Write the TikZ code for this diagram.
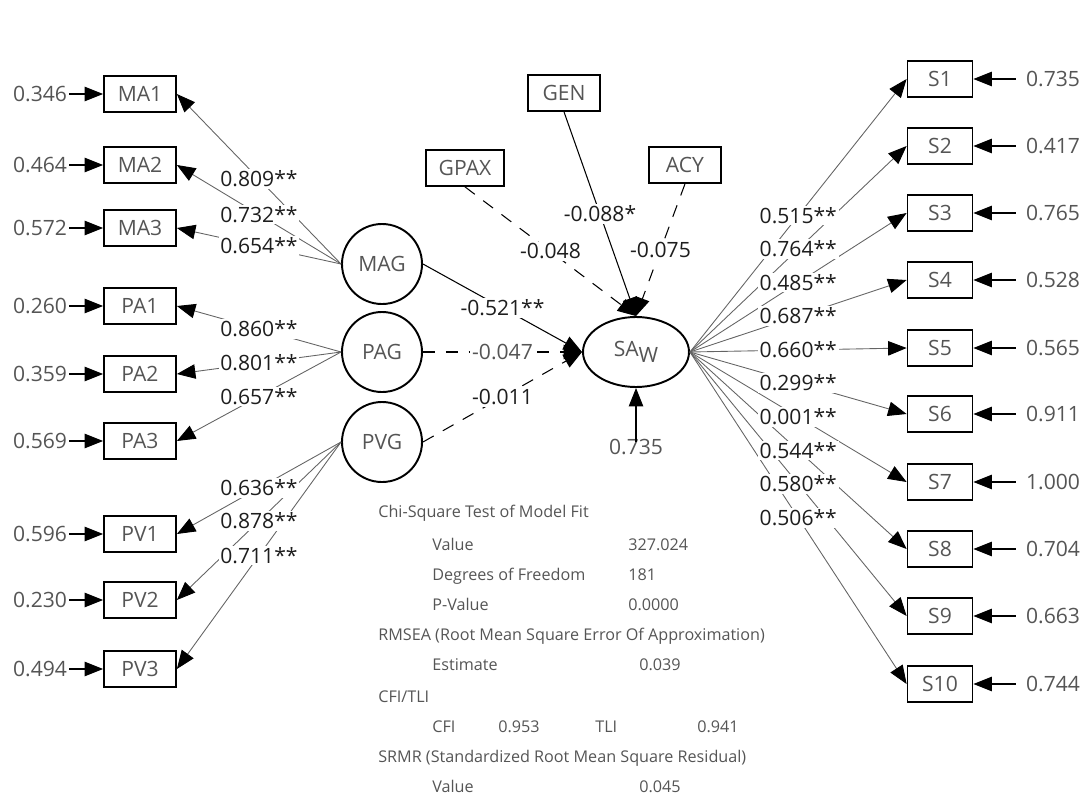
\documentclass[tikz,border=0pt]{standalone}
\usepackage{fontspec}
\setmainfont{Open Sans}
\usepackage{tikz}
\usetikzlibrary{arrows.meta,shapes.geometric}
\definecolor{cInk} {RGB}{30,30,30}
\definecolor{cSoft}{RGB}{85,85,85}
\definecolor{cWire}{RGB}{100,100,100}
\tikzset{
  >={Triangle[length=3.7mm,width=2.9mm]},
  obs/.style={draw=black,line width=1pt,minimum width=14.4mm,minimum height=7.2mm,
              inner sep=1pt,font=\fontsize{12}{14}\selectfont,text=cSoft},
  sobs/.style={obs,minimum width=13mm},
  lat/.style={draw=black,circle,line width=1.1pt,minimum size=16mm,inner sep=0pt,
              font=\fontsize{12}{14}\selectfont,text=cSoft},
  endo/.style={draw=black,ellipse,line width=1.1pt,minimum width=21.2mm,minimum height=14mm,
               inner sep=0pt,font=\fontsize{12}{14}\selectfont,text=cSoft},
  errlbl/.style={inner sep=1pt,font=\fontsize{12}{14}\selectfont,text=cSoft},
  est/.style={fill=white,inner sep=1pt,font=\fontsize{12}{14}\selectfont,text=cInk},
  fitx/.style={anchor=west,inner sep=0pt,text height=1.5ex,text depth=0.3ex,
               font=\fontsize{9.2}{11}\selectfont,text=cSoft},
  load/.style={-{Triangle[length=3.7mm,width=2.9mm,color=black]},cWire,line width=0.5pt},
  pathsig/.style={->,black,line width=0.6pt},
  pathns/.style={->,black,line width=0.6pt,dash pattern=on 7pt off 6pt},
  errarr/.style={->,black,line width=0.6pt},
  errarrR/.style={errarr,shorten <=1.6mm},
}
\begin{document}
\begin{tikzpicture}[x=0.2mm,y=-0.2mm]
  \useasboundingbox (0,0) rectangle (1092,796);
  % indicators, left
  \node[obs] (MA1) at (140,94)  {MA1};
  \node[obs] (MA2) at (140,165) {MA2};
  \node[obs] (MA3) at (140,228) {MA3};
  \node[obs] (PA1) at (140,306) {PA1};
  \node[obs] (PA2) at (140,374) {PA2};
  \node[obs] (PA3) at (140,441) {PA3};
  \node[obs] (PV1) at (140,534) {PV1};
  \node[obs] (PV2) at (140,600) {PV2};
  \node[obs] (PV3) at (140,669) {PV3};
  \node[errlbl] (eMA1) at (40,94)  {0.346};
  \node[errlbl] (eMA2) at (40,165) {0.464};
  \node[errlbl] (eMA3) at (40,228) {0.572};
  \node[errlbl] (ePA1) at (40,306) {0.260};
  \node[errlbl] (ePA2) at (40,374) {0.359};
  \node[errlbl] (ePA3) at (40,441) {0.569};
  \node[errlbl] (ePV1) at (40,534) {0.596};
  \node[errlbl] (ePV2) at (40,600) {0.230};
  \node[errlbl] (ePV3) at (40,669) {0.494};
  % latent factors
  \node[lat] (MAG) at (382,264) {MAG};
  \node[lat] (PAG) at (382,352) {PAG};
  \node[lat] (PVG) at (382,442) {PVG};
  \node[endo] (SAW) at (636,352) {SA\raisebox{-0.55ex}{W}};
  % covariates
  \node[obs,minimum width=15.6mm] (GPAX) at (465,168) {GPAX};
  \node[obs] (GEN) at (564,93)  {GEN};
  \node[obs] (ACY) at (685,165) {ACY};
  \node[errlbl] (rSAW) at (636,447) {0.735};
  % indicators, right
  \node[sobs] (S1)  at (940,79)  {S1};
  \node[sobs] (S2)  at (940,146) {S2};
  \node[sobs] (S3)  at (940,213) {S3};
  \node[sobs] (S4)  at (940,280) {S4};
  \node[sobs] (S5)  at (940,348) {S5};
  \node[sobs] (S6)  at (940,414) {S6};
  \node[sobs] (S7)  at (940,482) {S7};
  \node[sobs] (S8)  at (940,549) {S8};
  \node[sobs] (S9)  at (940,616) {S9};
  \node[sobs] (S10) at (940,684) {S10};
  \node[errlbl] (eS1)  at (1053,79)  {0.735};
  \node[errlbl] (eS2)  at (1053,146) {0.417};
  \node[errlbl] (eS3)  at (1053,213) {0.765};
  \node[errlbl] (eS4)  at (1053,280) {0.528};
  \node[errlbl] (eS5)  at (1053,348) {0.565};
  \node[errlbl] (eS6)  at (1053,414) {0.911};
  \node[errlbl] (eS7)  at (1053,482) {1.000};
  \node[errlbl] (eS8)  at (1053,549) {0.704};
  \node[errlbl] (eS9)  at (1053,616) {0.663};
  \node[errlbl] (eS10) at (1053,684) {0.744};

  % error terms
  \draw[errarr] (eMA1)--(MA1);
  \draw[errarr] (eMA2)--(MA2);
  \draw[errarr] (eMA3)--(MA3);
  \draw[errarr] (ePA1)--(PA1);
  \draw[errarr] (ePA2)--(PA2);
  \draw[errarr] (ePA3)--(PA3);
  \draw[errarr] (ePV1)--(PV1);
  \draw[errarr] (ePV2)--(PV2);
  \draw[errarr] (ePV3)--(PV3);
  \draw[errarrR] (eS1)--(S1);
  \draw[errarrR] (eS2)--(S2);
  \draw[errarrR] (eS3)--(S3);
  \draw[errarrR] (eS4)--(S4);
  \draw[errarrR] (eS5)--(S5);
  \draw[errarrR] (eS6)--(S6);
  \draw[errarrR] (eS7)--(S7);
  \draw[errarrR] (eS8)--(S8);
  \draw[errarrR] (eS9)--(S9);
  \draw[errarrR] (eS10)--(S10);
  \draw[errarr] ([yshift=-1mm]rSAW.north)--(SAW.south);

  % loadings
  \draw[load] (MAG.west)--coordinate[midway](mMA1)(MA1.east);
  \draw[load] (MAG.west)--coordinate[midway](mMA2)(MA2.east);
  \draw[load] (MAG.west)--coordinate[midway](mMA3)(MA3.east);
  \draw[load] (PAG.west)--coordinate[midway](mPA1)(PA1.east);
  \draw[load] (PAG.west)--coordinate[midway](mPA2)(PA2.east);
  \draw[load] (PAG.west)--coordinate[midway](mPA3)(PA3.east);
  \draw[load] (PVG.west)--coordinate[midway](mPV1)(PV1.east);
  \draw[load] (PVG.west)--coordinate[midway](mPV2)(PV2.east);
  \draw[load] (PVG.west)--coordinate[midway](mPV3)(PV3.east);
  \draw[load] (SAW.east)--coordinate[midway](mS1)(S1.west);
  \draw[load] (SAW.east)--coordinate[midway](mS2)(S2.west);
  \draw[load] (SAW.east)--coordinate[midway](mS3)(S3.west);
  \draw[load] (SAW.east)--coordinate[midway](mS4)(S4.west);
  \draw[load] (SAW.east)--coordinate[midway](mS5)(S5.west);
  \draw[load] (SAW.east)--coordinate[midway](mS6)(S6.west);
  \draw[load] (SAW.east)--coordinate[midway](mS7)(S7.west);
  \draw[load] (SAW.east)--coordinate[midway](mS8)(S8.west);
  \draw[load] (SAW.east)--coordinate[midway](mS9)(S9.west);
  \draw[load] (SAW.east)--coordinate[midway](mS10)(S10.west);

  % structural paths
  \draw[pathsig] (MAG.east)--coordinate[midway](pMAG)(SAW.west);
  \draw[pathns]  (PAG.east)--coordinate[midway](pPAG)(SAW.west);
  \draw[pathns]  (PVG.east)--coordinate[midway](pPVG)(SAW.west);
  \draw[pathns]  (GPAX.south)--coordinate[midway](pGPAX)(SAW.north);
  \draw[pathsig] (GEN.south)--coordinate[midway](pGEN)(SAW.north);
  \draw[pathns]  (ACY.south)--coordinate[midway](pACY)(SAW.north);

  % estimates
  \node[est] (lMA1) at (mMA1) {0.809**};
  \node[est] (lMA2) at (mMA2) {0.732**};
  \node[est] (lMA3) at (mMA3) {0.654**};
  \node[est] (lPA1) at (mPA1) {0.860**};
  \node[est] (lPA2) at (mPA2) {0.801**};
  \node[est] (lPA3) at (mPA3) {0.657**};
  \node[est] (lPV1) at (mPV1) {0.636**};
  \node[est] (lPV2) at (mPV2) {0.878**};
  \node[est] (lPV3) at (mPV3) {0.711**};
  \node[est] (lS1)  at (mS1)  {0.515**};
  \node[est] (lS2)  at (mS2)  {0.764**};
  \node[est] (lS3)  at (mS3)  {0.485**};
  \node[est] (lS4)  at (mS4)  {0.687**};
  \node[est] (lS5)  at (mS5)  {0.660**};
  \node[est] (lS6)  at (mS6)  {0.299**};
  \node[est] (lS7)  at (mS7)  {0.001**};
  \node[est] (lS8)  at (mS8)  {0.544**};
  \node[est] (lS9)  at (mS9)  {0.580**};
  \node[est] (lS10) at (mS10) {0.506**};
  \node[est] (lMAG) at (pMAG) {-0.521**};
  \node[est,text=cSoft] (lPAG) at (pPAG) {-0.047};
  \node[est] (lPVG) at (pPVG) {-0.011};
  \node[est] (lGPAX) at (pGPAX) {-0.048};
  \node[est] (lGEN) at (pGEN) {-0.088*};
  \node[est] (lACY) at (pACY) {-0.075};

  % model fit
  \node[fitx] (f1)  at (378,512) {Chi-Square Test of Model Fit};
  \node[fitx] (f2)  at (432,545) {Value};
  \node[fitx] (f2v) at (628,545) {327.024};
  \node[fitx] (f3)  at (432,575) {Degrees of Freedom};
  \node[fitx] (f3v) at (628,575) {181};
  \node[fitx] (f4)  at (432,605) {P-Value};
  \node[fitx] (f4v) at (628,605) {0.0000};
  \node[fitx] (f5)  at (378,635) {RMSEA (Root Mean Square Error Of Approximation)};
  \node[fitx] (f6)  at (432,665) {Estimate};
  \node[fitx] (f6v) at (639,665) {0.039};
  \node[fitx] (f7)  at (378,697) {CFI/TLI};
  \node[fitx] (f8)  at (432,727) {CFI};
  \node[fitx] (f8a) at (498,727) {0.953};
  \node[fitx] (f8b) at (595,727) {TLI};
  \node[fitx] (f8c) at (697,727) {0.941};
  \node[fitx] (f9)  at (378,757) {SRMR (Standardized Root Mean Square Residual)};
  \node[fitx] (f10) at (432,787) {Value};
  \node[fitx] (f10v) at (639,787) {0.045};
\end{tikzpicture}
\end{document}
